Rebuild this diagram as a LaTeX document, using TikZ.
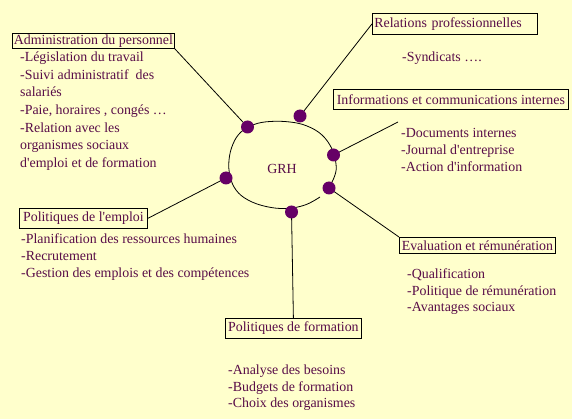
\documentclass[tikz,border=0pt]{standalone}
\usepackage{fontspec}
\setmainfont{Liberation Serif}
\definecolor{bg}{RGB}{255,255,204}
\definecolor{txt}{RGB}{88,12,72}
\definecolor{dotc}{RGB}{102,0,102}
\newcommand{\apo}{\textquotesingle}
\begin{document}
\begin{tikzpicture}[x=1pt,y=-1pt,
  box/.style={draw=black, line width=0.8pt, fill=bg, text=txt, inner sep=0pt,
    anchor=north west, font=\fontsize{13.9}{17}\selectfont},
  list/.style={text=txt, align=left, anchor=north west, inner sep=0pt,
    font=\fontsize{13.9}{17}\selectfont},
  pt/.style={circle, fill=dotc, minimum size=13pt, inner sep=0pt},
  link/.style={line width=0.8pt, draw=black}]
\fill[bg] (0,0) rectangle (572,419);
\useasboundingbox (0,0) rectangle (572,419);

% central shape
\draw[line width=0.8pt] plot[smooth, tension=0.65] coordinates {(329,188) (335,175) (336,164) (332,149) (322,135) (307,126) (290,122) (270,121.5) (254,124.5) (241,132) (233,144) (229,160) (230,176) (236,190) (248,200) (266,206.5) (286,208.5) (305,205) (320,197)};
\node[text=txt, font=\fontsize{13.9}{17}\selectfont, inner sep=0pt] (grh) at (282,169) {GRH};

% boxes
\node[box, minimum width=162pt, minimum height=15pt] (admin) at (12,33) {Administration du personnel};
\node[box, minimum height=21pt, text width=161pt, align=left, inner xsep=2pt] (rel) at (372,13) {\mbox{Relations professionnelles}};
\node[box, minimum width=235pt, minimum height=20pt] (info) at (333,89) {Informations et communications internes};
\node[box, minimum width=128pt, minimum height=20pt] (emploi) at (19,208) {Politiques de l\apo emploi};
\node[box, minimum width=156pt, minimum height=16pt] (eval) at (399,237) {Evaluation et rémunération};
\node[box, minimum width=136pt, minimum height=20pt] (form) at (225,318) {Politiques de formation};

% lists
\node[list, font=\fontsize{13.9}{17.6}\selectfont] (adminl) at (20,50.5) {\rule{0pt}{11pt}-Législation du travail\\-Suivi administratif~ des\\salariés\\-Paie, horaires , congés …\\-Relation avec les\\organismes sociaux\\d\apo emploi et de formation};
\node[list] (rell) at (402,50.5) {\rule{0pt}{11pt}-Syndicats ….};
\node[list] (infol) at (401,126.5) {\rule{0pt}{11pt}-Documents internes\\-Journal d\apo entreprise\\-Action d\apo information};
\node[list] (emploil) at (21,232.5) {\rule{0pt}{11pt}-Planification des ressources humaines\\-Recrutement\\-Gestion des emplois et des compétences};
\node[list, font=\fontsize{13.9}{16.6}\selectfont] (evall) at (407,267.5) {\rule{0pt}{11pt}-Qualification\\-Politique de rémunération\\-Avantages sociaux};
\node[list, font=\fontsize{13.9}{16.6}\selectfont] (forml) at (228,363.5) {\rule{0pt}{11pt}-Analyse des besoins\\-Budgets de formation\\-Choix des organismes};

% dot positions
\coordinate (c1) at (247.5,127);
\coordinate (c2) at (300,116);
\coordinate (c3) at (333.5,155);
\coordinate (c4) at (329,188);
\coordinate (c5) at (226,178);
\coordinate (c6) at (291.5,212);
\coordinate (infoend) at (398,122);

% connectors
\draw[link] (c1) -- (admin.south east);
\draw[link] (c2) -- (rel.west);
\draw[link] (c3) -- (infoend);
\draw[link] (c4) -- (eval.north west);
\draw[link] (c5) -- (emploi.east);
\draw[link] (c6) -- (form.north);

% dots
\node[pt] (d1) at (c1) {};
\node[pt] (d2) at (c2) {};
\node[pt] (d3) at (c3) {};
\node[pt] (d4) at (c4) {};
\node[pt] (d5) at (c5) {};
\node[pt] (d6) at (c6) {};
\end{tikzpicture}
\end{document}
